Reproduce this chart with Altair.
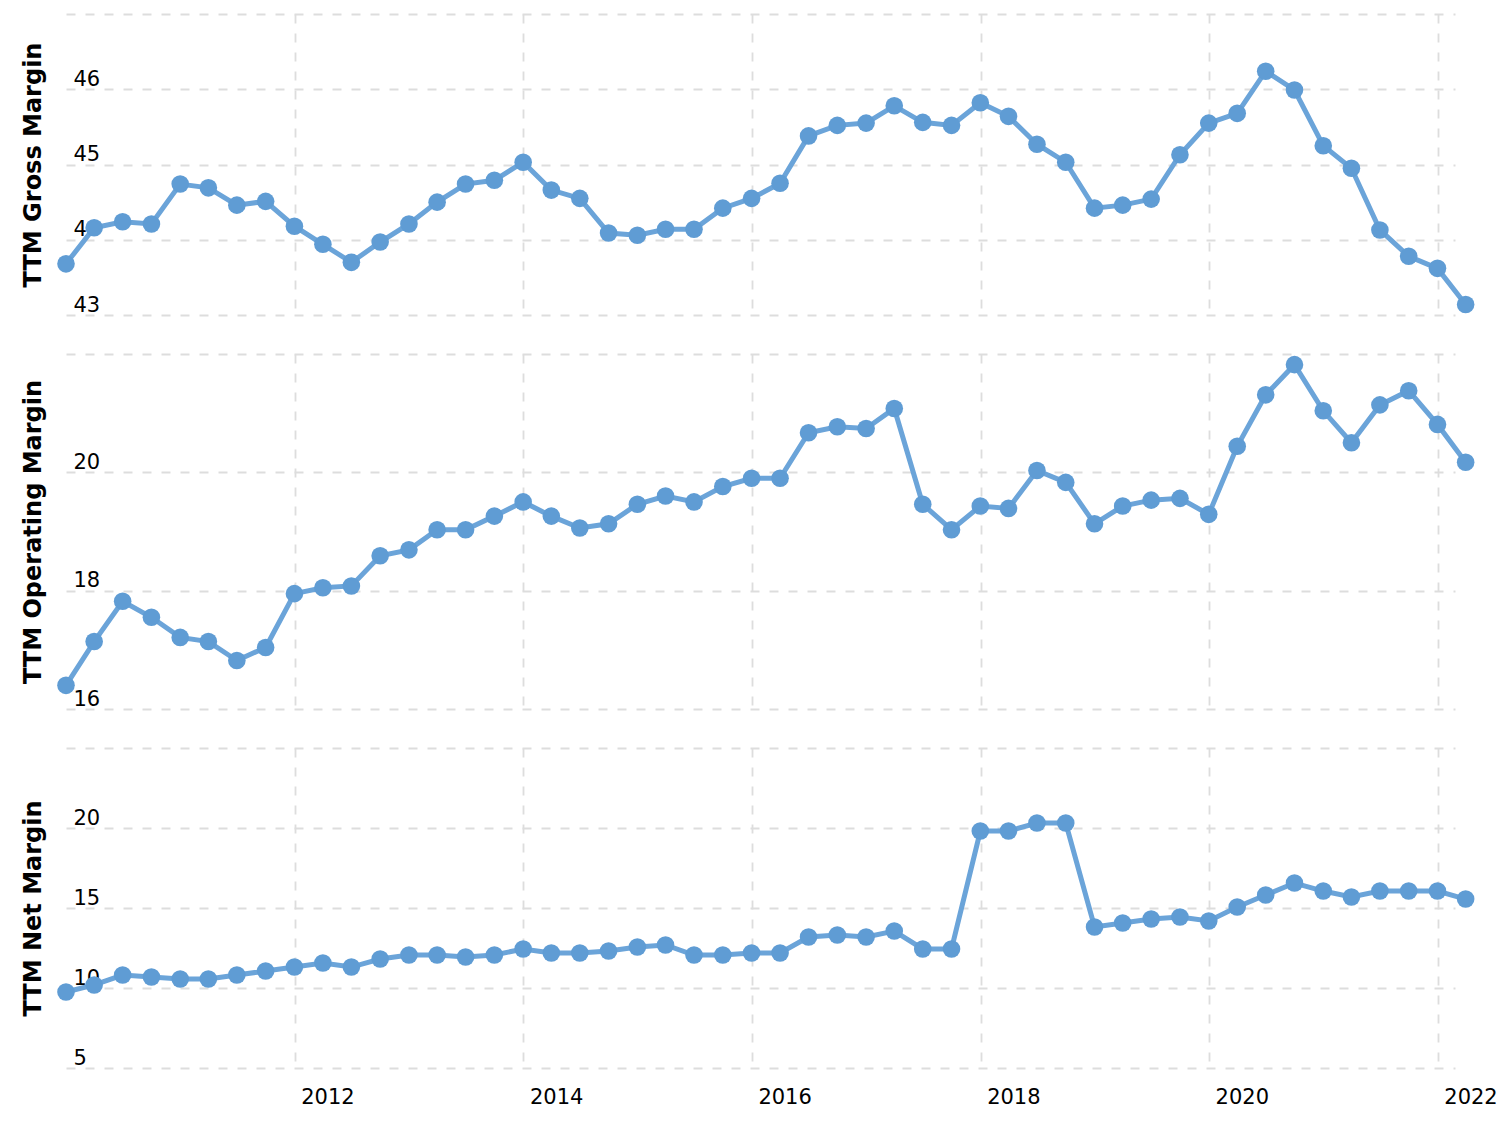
import altair as alt
import pandas as pd

# Quarter-end dates (TTM figures)
dates = [
    "2009-12-31", "2010-03-31", "2010-06-30", "2010-09-30",
    "2010-12-31", "2011-03-31", "2011-06-30", "2011-09-30",
    "2011-12-31", "2012-03-31", "2012-06-30", "2012-09-30",
    "2012-12-31", "2013-03-31", "2013-06-30", "2013-09-30",
    "2013-12-31", "2014-03-31", "2014-06-30", "2014-09-30",
    "2014-12-31", "2015-03-31", "2015-06-30", "2015-09-30",
    "2015-12-31", "2016-03-31", "2016-06-30", "2016-09-30",
    "2016-12-31", "2017-03-31", "2017-06-30", "2017-09-30",
    "2017-12-31", "2018-03-31", "2018-06-30", "2018-09-30",
    "2018-12-31", "2019-03-31", "2019-06-30", "2019-09-30",
    "2019-12-31", "2020-03-31", "2020-06-30", "2020-09-30",
    "2020-12-31", "2021-03-31", "2021-06-30", "2021-09-30",
    "2021-12-31", "2022-03-31",
]

gross_margin = [
    43.68, 44.16, 44.24, 44.21, 44.74, 44.69, 44.46, 44.51, 44.18, 43.94,
    43.70, 43.97, 44.21, 44.50, 44.74, 44.79, 45.03, 44.66, 44.55, 44.09,
    44.06, 44.14, 44.14, 44.42, 44.55, 44.75, 45.38, 45.52, 45.55, 45.78,
    45.56, 45.52, 45.82, 45.64, 45.27, 45.03, 44.42, 44.46, 44.54, 45.13,
    45.55, 45.68, 46.24, 45.99, 45.25, 44.95, 44.13, 43.78, 43.62, 43.14,
]

operating_margin = [
    16.40, 17.14, 17.82, 17.55, 17.21, 17.14, 16.82, 17.04, 17.95, 18.05,
    18.08, 18.59, 18.69, 19.03, 19.03, 19.26, 19.50, 19.26, 19.06, 19.13,
    19.46, 19.60, 19.50, 19.76, 19.90, 19.90, 20.67, 20.77, 20.74, 21.08,
    19.46, 19.03, 19.43, 19.39, 20.03, 19.83, 19.13, 19.43, 19.53, 19.56,
    19.29, 20.44, 21.31, 21.82, 21.04, 20.50, 21.14, 21.38, 20.81, 20.17,
]

net_margin = [
    9.75, 10.19, 10.81, 10.69, 10.56, 10.56, 10.81, 11.06, 11.31, 11.56,
    11.31, 11.81, 12.06, 12.06, 11.94, 12.06, 12.44, 12.19, 12.19, 12.31,
    12.56, 12.69, 12.06, 12.06, 12.19, 12.19, 13.19, 13.31, 13.19, 13.56,
    12.44, 12.44, 19.81, 19.81, 20.31, 20.31, 13.81, 14.06, 14.31, 14.44,
    14.19, 15.06, 15.81, 16.56, 16.06, 15.69, 16.06, 16.06, 16.06, 15.56,
]

panel_titles = ["TTM Gross Margin", "TTM Operating Margin", "TTM Net Margin"]
year_ticks = [2012, 2014, 2016, 2018, 2020, 2022]

df = pd.DataFrame({
    "date": dates,
    "gross": gross_margin,
    "operating": operating_margin,
    "net": net_margin,
})

LINE_COLOR = "#6ba4d9"
POINT_COLOR = "#5f9cd4"
GRID_COLOR = "#dddddd"
FONT = "DejaVu Sans"
WIDTH = 1389

x_scale = alt.Scale(
    type="utc",
    domain=[alt.DateTime(year=2009, month=12, date=31, utc=True),
            alt.DateTime(year=2022, month=2, date=25, utc=True)],
    nice=False,
)
x_values = [alt.DateTime(year=y, month=1, date=1, utc=True) for y in year_ticks]


def panel(field, title, domain, ticks, height, show_x_labels):
    x_axis = alt.Axis(
        values=x_values,
        format="%Y",
        title=None,
        grid=True,
        gridColor=GRID_COLOR,
        gridDash=[9, 10],
        gridWidth=1.8,
        domain=False,
        ticks=False,
        tickSize=0,
        labels=show_x_labels,
        labelFont=FONT,
        labelFontSize=21,
        labelColor="#000000",
        labelAlign="left",
        labelBaseline="top",
        labelOffset=6,
        labelPadding=18,
        labelFlush=False,
        labelOverlap=False,
    )
    top = ticks[-1]
    y_axis = alt.Axis(
        values=ticks,
        title=title,
        titleFont=FONT,
        titleFontSize=24,
        titleFontWeight="bold",
        titleColor="#000000",
        titleX=-33,
        titleY=height / 2,
        titleAlign="center",
        titleBaseline="middle",
        titleAngle=270,
        grid=True,
        gridColor=GRID_COLOR,
        gridDash=[9, 10],
        gridWidth=1.8,
        domain=False,
        ticks=False,
        tickSize=0,
        labelFont=FONT,
        labelFontSize={"condition": {"test": f"datum.value >= {top}", "value": 0},
                       "value": 21},
        labelColor="#000000",
        labelAlign="left",
        labelBaseline="bottom",
        labelPadding=-7,
        labelOffset=0,
        labelFlush=False,
        labelOverlap=False,
        labelExpr=f"datum.value >= {top} ? '' : datum.label",
    )
    base = alt.Chart(df)
    enc_x = alt.X("date:T", scale=x_scale, axis=x_axis)
    enc_y = alt.Y(f"{field}:Q",
                  scale=alt.Scale(domain=domain, nice=False, zero=False),
                  axis=y_axis)
    line = base.mark_line(color=LINE_COLOR, strokeWidth=5, clip=False).encode(x=enc_x, y=enc_y)
    pts = base.mark_circle(color=POINT_COLOR, size=310, opacity=1, clip=False).encode(x=enc_x, y=enc_y)
    return alt.layer(line, pts).properties(width=WIDTH, height=height)


p1 = panel("gross", panel_titles[0], [43, 47], [43, 44, 45, 46, 47], 301, False)
p2 = panel("operating", panel_titles[1], [16, 22], [16, 18, 20, 22], 355, False)
p3 = panel("net", panel_titles[2], [5, 25], [5, 10, 15, 20, 25], 320, True)

chart = alt.vconcat(p1, p2, p3, spacing=39).properties(
    padding={"left": 20, "top": 14, "right": 5, "bottom": 5},
    background="#ffffff",
).configure_view(strokeWidth=0)

chart.save("out.html", embed_options={"renderer": "svg", "actions": False})
